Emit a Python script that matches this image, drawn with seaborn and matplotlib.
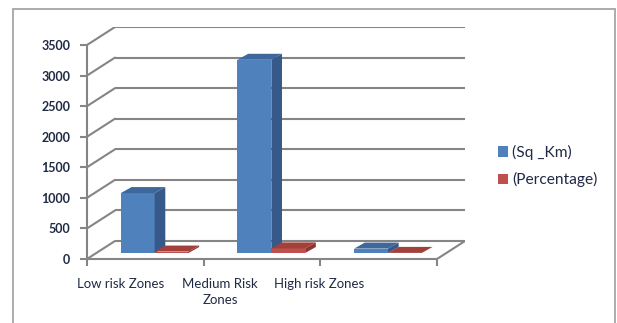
import numpy as np
import pandas as pd
import matplotlib
matplotlib.use("Agg")
import matplotlib.pyplot as plt
from matplotlib.patches import Polygon
from matplotlib.lines import Line2D
import seaborn as sns

# ---- data ----
zones = ["Low risk Zones", "Medium Risk\nZones", "High risk Zones"]
series = ["(Sq _Km)", "(Percentage)"]
sq_km = [980, 3160, 72]
percentage = [23.3, 75.0, 1.7]
y_ticks = [0, 500, 1000, 1500, 2000, 2500, 3000, 3500]

df = pd.DataFrame({
    "zone": zones * 2,
    "series": [series[0]] * 3 + [series[1]] * 3,
    "value": sq_km + percentage,
})

front_cols = {series[0]: "#4F81BD", series[1]: "#C0504D"}
side_cols = {series[0]: "#36598A", series[1]: "#8E3532"}
top_cols = {series[0]: "#3E679C", series[1]: "#A2403C"}

sns.set_theme(style="white")
plt.rcParams["font.family"] = ["Lato", "DejaVu Sans"]

W, H = 617, 323
fig = plt.figure(figsize=(W / 100, H / 100), dpi=100)

# axes in pixel geometry (front floor left x=87, back right x=465, y0=259, top=27)
L, R, B, T = 87, 465, 259, 27
ax = fig.add_axes([L / W, (H - B) / H, (R - L) / W, (B - T) / H])

DX, DY = 0.24, 294.4  # full depth offset in data units
ax.set_xlim(-0.5, 2.5 + DX)
ax.set_ylim(0, 3500 + DY)

sns.barplot(data=df, x="zone", y="value", hue="series", order=zones,
            hue_order=series, palette=front_cols, width=0.58, ax=ax,
            legend=False, saturation=1, zorder=3)
ax.set_xlim(-0.5, 2.5 + DX)
ax.set_ylim(0, 3500 + DY)

grid_c = "#858585"
glw = 1.5
# back wall gridlines and left wall diagonals
for v in y_ticks:
    ax.plot([-0.5 + DX, 2.5 + DX], [v + DY, v + DY], color=grid_c, lw=glw,
            zorder=1, solid_capstyle="butt")
    ax.plot([-0.5, -0.5 + DX], [v, v + DY], color=grid_c, lw=glw, zorder=1)
# floor right edge
ax.plot([2.5, 2.5 + DX], [0, DY], color=grid_c, lw=glw, zorder=1)

# 3D faces of bars
fx, fy = DX / 3, DY / 3
bdx, bdy = DX * 0.38, DY / 3
containers = list(ax.containers)
n = len(containers[0])
for i in range(n):
    for k, cont in enumerate(containers):
        p = cont[i]
        s = series[k]
        x0 = p.get_x() + fx
        w = p.get_width()
        h = p.get_height()
        p.set_x(x0)
        p.set_y(fy)
        p.set_edgecolor("none")
        z = 3 + i * 2 + k * 0.5
        p.set_zorder(z)
        y0 = fy
        top = Polygon([(x0, y0 + h), (x0 + w, y0 + h), (x0 + w + bdx, y0 + h + bdy),
                       (x0 + bdx, y0 + h + bdy)], closed=True,
                      facecolor=top_cols[s], edgecolor="none", zorder=z)
        side = Polygon([(x0 + w, y0), (x0 + w + bdx, y0 + bdy),
                        (x0 + w + bdx, y0 + h + bdy), (x0 + w, y0 + h)], closed=True,
                       facecolor=side_cols[s], edgecolor="none", zorder=z)
        ax.add_patch(top)
        ax.add_patch(side)

# axes / spines
for sp in ["top", "right"]:
    ax.spines[sp].set_visible(False)
ax.spines["left"].set_bounds(0, 3500)
ax.spines["bottom"].set_bounds(-0.5, 2.5)
for sp in ["left", "bottom"]:
    ax.spines[sp].set_color(grid_c)
    ax.spines[sp].set_linewidth(glw)
    ax.spines[sp].set_zorder(2)

ax.set_yticks(y_ticks)
ax.set_yticklabels([str(v) for v in y_ticks], fontsize=9, fontweight="bold",
                   color="#1F2A44")
ax.tick_params(axis="y", direction="out", length=5, width=glw, color=grid_c, pad=7,
               left=True)

label_x = [-0.21, 0.64, 1.49]
ax.set_xticks(label_x)
ax.set_xticklabels(zones, fontsize=9.5, color="#1F2A44", linespacing=1.4, va="top")
ax.tick_params(axis="x", length=0, pad=14, bottom=True)
ax.set_xticks([-0.5, 0.5, 1.5, 2.5], minor=True)
ax.tick_params(axis="x", which="minor", direction="out", length=5, width=glw,
               color=grid_c, bottom=True)
ax.set_xlabel("")
ax.set_ylabel("")
ax.grid(False)

# legend
handles = [plt.Rectangle((0, 0), 1, 1, facecolor=front_cols[s], edgecolor="none")
           for s in series]
leg = fig.legend(handles, series, loc="center left",
                 bbox_to_anchor=(490 / W, (H - 166) / H), frameon=False,
                 fontsize=11.2, handlelength=0.65, handleheight=0.65,
                 handletextpad=0.25, labelspacing=0.8, borderpad=0)
for t in leg.get_texts():
    t.set_color("#1F2A44")

# outer chart frame
fc = "#A6A6A6"
fig.add_artist(Line2D([13 / W, 13 / W], [0, (H - 9) / H], color=fc, lw=1.3))
fig.add_artist(Line2D([13 / W, 615 / W], [(H - 9) / H, (H - 9) / H], color=fc, lw=1.3))
fig.add_artist(Line2D([615 / W, 615 / W], [0, (H - 9) / H], color=fc, lw=1.3))

fig.savefig("out.png", dpi=100, facecolor="white")
